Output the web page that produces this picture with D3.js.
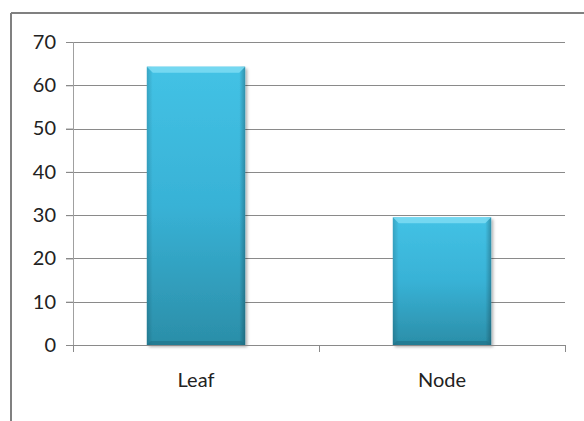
<!DOCTYPE html>
<html>
<head>
<meta charset="utf-8">
<script src="https://cdn.jsdelivr.net/npm/d3@7"></script>
<style>
  body { margin: 0; background: #fff; }
  text { font-family: Lato, "Open Sans", sans-serif; fill: #222; }
</style>
</head>
<body>
<div id="main"></div>
<script>
const ctx = { w: 584, h: 421 };
const margin = { top: 42, right: 19, bottom: 76, left: 73 };

// data
const categories = ['Leaf', 'Node'];
const values = [64.3, 29.5];
const yTicks = [0, 10, 20, 30, 40, 50, 60, 70];

const svg = d3.select('#main').append('svg')
    .attr('width', ctx.w)
    .attr('height', ctx.h);

const defs = svg.append('defs');
const grad = defs.append('linearGradient')
    .attr('id', 'barGrad')
    .attr('x1', 0).attr('y1', 0).attr('x2', 0).attr('y2', 1);
grad.append('stop').attr('offset', '0%').attr('stop-color', '#43c2e5');
grad.append('stop').attr('offset', '50%').attr('stop-color', '#38b2d6');
grad.append('stop').attr('offset', '100%').attr('stop-color', '#2b8ea8');

const sideGrad = defs.append('linearGradient')
    .attr('id', 'sideGrad')
    .attr('x1', 0).attr('y1', 0).attr('x2', 1).attr('y2', 0);
sideGrad.append('stop').attr('offset', '0%').attr('stop-color', '#000').attr('stop-opacity', 0.15);
sideGrad.append('stop').attr('offset', '6%').attr('stop-color', '#000').attr('stop-opacity', 0);
sideGrad.append('stop').attr('offset', '94%').attr('stop-color', '#000').attr('stop-opacity', 0);
sideGrad.append('stop').attr('offset', '100%').attr('stop-color', '#000').attr('stop-opacity', 0.25);

const shadow = defs.append('filter').attr('id', 'shadow')
    .attr('x', '-10%').attr('y', '-10%').attr('width', '130%').attr('height', '130%');
shadow.append('feDropShadow')
    .attr('dx', 2).attr('dy', 2).attr('stdDeviation', 1.5)
    .attr('flood-color', '#000').attr('flood-opacity', 0.3);

// outer frame (chart is cropped: only top and left edges show)
svg.append('line').attr('x1', 11).attr('y1', 13).attr('x2', ctx.w).attr('y2', 13)
    .attr('stroke', '#808080').attr('stroke-width', 2);
svg.append('line').attr('x1', 11).attr('y1', 13).attr('x2', 11).attr('y2', ctx.h)
    .attr('stroke', '#808080').attr('stroke-width', 2);

const plotW = ctx.w - margin.left - margin.right;
const plotH = ctx.h - margin.top - margin.bottom;

const g = svg.append('g').attr('transform', `translate(${margin.left},${margin.top})`);

const x = d3.scaleBand()
    .domain(categories)
    .range([0, plotW])
    .paddingInner(0.6)
    .paddingOuter(0.3);

const y = d3.scaleLinear()
    .domain([0, 70])
    .range([plotH, 0]);

// gridlines
g.append('g').selectAll('line')
    .data(yTicks.filter(d => d > 0))
    .enter().append('line')
    .attr('x1', -7).attr('x2', plotW)
    .attr('y1', d => Math.round(y(d)) + 0.5).attr('y2', d => Math.round(y(d)) + 0.5)
    .attr('stroke', '#8a8a8a').attr('stroke-width', 1);

// y axis
const yAxis = g.append('g')
    .call(d3.axisLeft(y).tickValues(yTicks).tickSize(7).tickPadding(10).tickFormat(d3.format('d')));
yAxis.select('.domain').attr('stroke', '#a0a0a0');
yAxis.selectAll('.tick line').attr('stroke', '#8a8a8a');
yAxis.selectAll('text').style('font-size', '20px').attr('fill', '#222');

// bars
const bars = g.append('g').selectAll('g')
    .data(categories.map((c, i) => ({ cat: c, val: values[i] })))
    .enter().append('g');

bars.append('rect')
    .attr('x', d => x(d.cat))
    .attr('y', d => y(d.val))
    .attr('width', x.bandwidth())
    .attr('height', d => y(0) - y(d.val))
    .attr('fill', 'url(#barGrad)')
    .attr('filter', 'url(#shadow)');

bars.append('rect')
    .attr('x', d => x(d.cat))
    .attr('y', d => y(d.val))
    .attr('width', x.bandwidth())
    .attr('height', d => y(0) - y(d.val))
    .attr('fill', 'url(#sideGrad)');

// top bevel
bars.append('path')
    .attr('d', d => {
        const x0 = x(d.cat), x1 = x0 + x.bandwidth(), y0 = y(d.val), b = 6;
        return `M${x0},${y0}L${x1},${y0}L${x1 - b},${y0 + b}L${x0 + b},${y0 + b}Z`;
    })
    .attr('fill', '#7ddcf3')
    .attr('opacity', 0.85);

// bottom bevel
bars.append('path')
    .attr('d', d => {
        const x0 = x(d.cat), x1 = x0 + x.bandwidth(), y1 = y(0), b = 4;
        return `M${x0},${y1}L${x1},${y1}L${x1 - b},${y1 - b}L${x0 + b},${y1 - b}Z`;
    })
    .attr('fill', '#1f6f85')
    .attr('opacity', 0.6);

// x axis
const xAxis = g.append('g')
    .attr('transform', `translate(0,${plotH})`)
    .call(d3.axisBottom(x).tickSize(0).tickPadding(28));
xAxis.select('.domain').remove();
xAxis.selectAll('text').style('font-size', '20px').attr('fill', '#222');

g.append('line')
    .attr('x1', -7).attr('x2', plotW)
    .attr('y1', plotH + 0.5).attr('y2', plotH + 0.5)
    .attr('stroke', '#8a8a8a');

// category boundary ticks
g.append('g').selectAll('line')
    .data([0, plotW / 2, plotW])
    .enter().append('line')
    .attr('x1', d => Math.round(d) + 0.5)
    .attr('x2', d => Math.round(d) + 0.5)
    .attr('y1', plotH).attr('y2', plotH + 7)
    .attr('stroke', '#8a8a8a');
</script>
</body>
</html>
